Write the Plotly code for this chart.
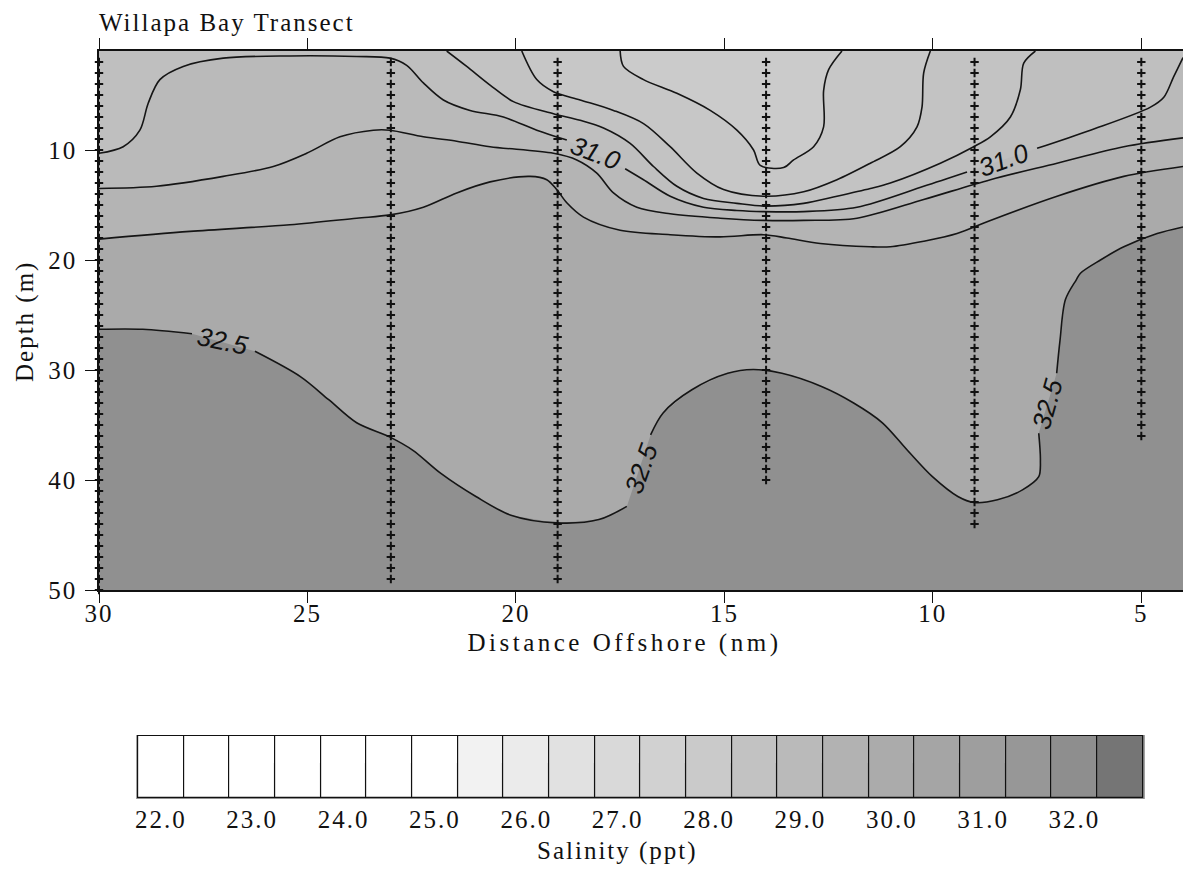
import plotly.graph_objects as go

W, H = 1183, 873

# ------------------------------------------------------------------ data
X_TICKS = [30, 25, 20, 15, 10, 5]
Y_TICKS = [10, 20, 30, 40, 50]

# CTD stations (distance offshore, nm) and first / last sampled depth (m, 1-m bins)
STATION_X = [30, 23, 19, 14, 9, 5]
STATION_TOP = [2, 2, 2, 2, 2, 2]
STATION_BOTTOM = [50, 49, 49, 40, 44, 36]

# Isohalines read from the section (distance nm, depth m); None = gap for a label
ISO_295_X = [17.50, 17.42, 16.94, 16.14, 15.34, 14.70, 14.30, 14.14, 13.58, 13.34, 12.86, 12.62, 12.62, 12.50, 12.18]
ISO_295_D = [1.0, 2.4, 3.6, 4.85, 6.4, 8.2, 10.0, 11.4, 11.6, 10.9, 9.7, 7.9, 4.6, 2.7, 1.0]

ISO_300_X = [19.86, 19.50, 19.10, 18.46, 17.66, 16.94, 16.30, 15.66, 15.02, 14.06, 13.10, 12.30, 11.50, 10.78, 10.38, 10.26, 10.22, 10.06]
ISO_300_D = [1.0, 3.6, 4.7, 5.45, 6.4, 7.6, 9.7, 12.1, 13.6, 14.2, 13.8, 12.7, 11.2, 9.7, 7.9, 6.1, 3.0, 1.0]

ISO_305_X = [21.66, 21.18, 20.62, 20.06, 19.10, 18.46, 17.90, 17.26, 16.70, 16.14, 15.50, 14.70, 14.06, 13.10, 12.30, 11.50, 11.02, 9.82, 9.02, 8.62, 8.14, 7.90, 7.82, 7.54]
ISO_305_D = [1.0, 2.4, 4.1, 5.6, 6.7, 7.3, 8.0, 9.4, 11.5, 13.3, 14.4, 14.85, 15.1, 14.85, 14.2, 13.5, 13.0, 11.2, 9.7, 8.8, 7.0, 4.5, 2.1, 1.0]

ISO_310_X = [30.0, 29.42, 29.02, 28.82, 28.54, 27.98, 27.02, 25.42, 23.82, 23.02, 22.62, 22.22, 21.74, 21.10, 20.30, 19.50, 18.78, None,
             17.38, 16.94, 16.30, 15.50, 14.70, 14.06, 13.10, 11.82, 10.22, 9.18, None,
             7.50, 6.22, 4.78, 4.46, 4.22, 4.0]
ISO_310_D = [10.3, 9.7, 8.2, 5.75, 3.6, 2.4, 1.65, 1.45, 1.5, 1.65, 2.3, 3.9, 5.45, 6.4, 7.0, 8.2, 9.1, None,
             11.7, 12.7, 14.2, 15.2, 15.5, 15.6, 15.6, 15.2, 13.3, 12.0, None,
             9.85, 8.2, 6.1, 5.2, 3.3, 1.6]

ISO_315_X = [30.0, 28.62, 27.02, 25.82, 25.02, 24.22, 23.42, 23.02, 22.22, 21.42, 20.62, 19.10, 18.54, 18.06, 17.66, 17.10, 16.30,
             15.10, 14.06, 13.10, 11.82, 10.22, 8.62, 7.02, 5.42, 4.0]
ISO_315_D = [13.5, 13.3, 12.4, 11.5, 10.3, 8.8, 8.2, 8.2, 8.8, 9.2, 9.7, 10.3, 10.9, 12.1, 13.9, 15.2, 15.8,
             16.2, 16.4, 16.4, 16.2, 14.5, 12.7, 11.2, 9.7, 8.9]

ISO_320_X = [30.0, 27.82, 25.42, 23.82, 23.02, 22.22, 21.42, 20.62, 19.66, 19.26, 19.02, 18.78, 18.38, 17.50, 16.30, 15.10, 14.06,
             13.50, 12.70, 11.50, 11.02, 10.22, 9.42, 8.62, 7.02, 5.42, 4.0]
ISO_320_D = [18.1, 17.4, 16.8, 16.2, 15.9, 15.2, 13.9, 12.9, 12.4, 12.7, 13.6, 14.8, 16.1, 17.3, 17.7, 17.9, 17.7,
             18.0, 18.5, 18.8, 18.8, 18.3, 17.6, 16.4, 14.2, 12.4, 11.5]

ISO_325_X = [30.0, 28.95, 27.77, None, 26.26, 25.17, 24.49, 23.82, 23.02, 22.47, 21.80, 20.96, 20.12, 19.02, 18.01, 17.34, None,
             16.77, 16.47, 15.78, 14.92, 14.31, 13.62, 12.67, 11.90, 11.21, 10.61, 10.01, 9.40, 9.01, 8.45, 7.85, 7.46, 7.42, 7.46, None,
             7.03, 6.95, 6.82, 6.56, 6.46, 5.98, 5.42, 4.62, 4.0]
ISO_325_D = [26.3, 26.3, 26.7, None, 28.3, 30.6, 32.7, 34.8, 36.1, 37.3, 39.4, 41.5, 43.2, 43.9, 43.6, 42.4, None,
             35.9, 33.9, 31.8, 30.3, 29.95, 30.3, 31.5, 33.0, 34.8, 37.3, 39.7, 41.5, 42.05, 41.8, 40.9, 39.7, 38.2, 35.75, None,
             30.3, 27.3, 23.6, 21.8, 21.2, 20.0, 18.8, 17.6, 17.0]

ISOHALINES = [
    (29.5, ISO_295_X, ISO_295_D),
    (30.0, ISO_300_X, ISO_300_D),
    (30.5, ISO_305_X, ISO_305_D),
    (31.0, ISO_310_X, ISO_310_D),
    (31.5, ISO_315_X, ISO_315_D),
    (32.0, ISO_320_X, ISO_320_D),
    (32.5, ISO_325_X, ISO_325_D),
]

# shading of the band just below (fresher than) each isohaline, and deepest band
BAND_BELOW_COLOR = {29.5: "#cbcbcb", 30.0: "#c7c7c7", 30.5: "#c3c3c3", 31.0: "#bfbfbf",
                    31.5: "#bababa", 32.0: "#b4b4b4", 32.5: "#aaaaaa"}
DEEP_COLOR = "#909090"

# contour labels: text, distance, depth, angle
LABEL_TEXT = ["31.0", "31.0", "32.5", "32.5", "32.5"]
LABEL_X = [18.10, 8.30, 27.03, 17.00, 7.25]
LABEL_D = [10.3, 10.9, 27.4, 39.0, 33.1]
LABEL_ANGLE = [21, -20, 12, -70, -74]

# salinity key (ppt)
SAL_LEVELS = [22.0, 22.5, 23.0, 23.5, 24.0, 24.5, 25.0, 25.5, 26.0, 26.5, 27.0,
              27.5, 28.0, 28.5, 29.0, 29.5, 30.0, 30.5, 31.0, 31.5, 32.0, 32.5]
SAL_COLORS = ["#ffffff", "#ffffff", "#ffffff", "#ffffff", "#ffffff", "#ffffff", "#ffffff",
              "#f2f2f2", "#ebebeb", "#e1e1e1", "#d9d9d9", "#d1d1d1", "#cacaca", "#c2c2c2",
              "#bababa", "#b2b2b2", "#ababab", "#a5a5a5", "#9e9e9e", "#979797", "#8e8e8e", "#757575"]
SAL_TICKS = [22.0, 23.0, 24.0, 25.0, 26.0, 27.0, 28.0, 29.0, 30.0, 31.0, 32.0]

# ------------------------------------------------------------------ layout constants
X_RANGE = [30, 4]
Y_RANGE = [50, 1]
SERIF = "Liberation Serif"
SANS = "Liberation Sans"
INK = "#111111"
FS = 25

def px_x(px):
    return px / W

def px_y(py):
    return 1 - py / H

fig = go.Figure()

# ------------------------------------------------------------------ shaded bands
def band_polygon(xs, ds):
    px = [x for x in xs if x is not None]
    pd_ = [d for d in ds if d is not None]
    top_out = Y_RANGE[1] - 2
    left_out = X_RANGE[0] + 1
    right_out = X_RANGE[1] - 1

    def ext(x, d):
        if abs(d - Y_RANGE[1]) < 0.05:
            return [(x, top_out)]
        if abs(x - X_RANGE[0]) < 0.05:
            return [(left_out, d), (left_out, top_out)]
        return [(right_out, d), (right_out, top_out)]

    start = ext(px[0], pd_[0])[::-1]
    end = ext(px[-1], pd_[-1])
    pts = start + list(zip(px, pd_)) + end
    return [p[0] for p in pts], [p[1] for p in pts]

for level, xs, ds in sorted(ISOHALINES, key=lambda t: -t[0]):
    bx, by = band_polygon(xs, ds)
    fig.add_trace(go.Scatter(x=bx, y=by, mode="lines", fill="toself",
                             fillcolor=BAND_BELOW_COLOR[level],
                             line=dict(width=0, color=BAND_BELOW_COLOR[level]),
                             hoverinfo="skip", showlegend=False,
                             xaxis="x", yaxis="y"))

# ------------------------------------------------------------------ isohaline lines
for level, xs, ds in ISOHALINES:
    fig.add_trace(go.Scatter(x=xs, y=ds, mode="lines", connectgaps=False,
                             line=dict(color="#151515", width=1.6, shape="spline", smoothing=0.9),
                             name=f"{level:.1f}", showlegend=False, hoverinfo="skip",
                             xaxis="x", yaxis="y"))

# ------------------------------------------------------------------ station sample points
for sx, top, bot in zip(STATION_X, STATION_TOP, STATION_BOTTOM):
    depths = list(range(top, bot + 1))
    fig.add_trace(go.Scatter(x=[sx] * len(depths), y=depths, mode="markers",
                             marker=dict(symbol="cross-thin", size=6, color=INK,
                                         line=dict(width=2, color=INK)),
                             showlegend=False, hoverinfo="skip", cliponaxis=False,
                             xaxis="x", yaxis="y"))

# ------------------------------------------------------------------ salinity key
fig.add_trace(go.Bar(x=SAL_LEVELS, y=[1] * len(SAL_LEVELS), width=0.5,
                     marker=dict(color=SAL_COLORS, line=dict(color="#111111", width=1.2)),
                     showlegend=False, hoverinfo="skip", xaxis="x2", yaxis="y2"))

annotations = []
for t, x, d, a in zip(LABEL_TEXT, LABEL_X, LABEL_D, LABEL_ANGLE):
    annotations.append(dict(text=t, x=x, y=d, xref="x", yref="y", showarrow=False,
                            textangle=a,
                            font=dict(family=SANS, size=26, color=INK, style="italic")))

annotations += [
    dict(text="Willapa Bay Transect", x=px_x(227), y=px_y(22), xref="paper", yref="paper",
         xanchor="center", yanchor="middle", showarrow=False,
         font=dict(family=SERIF, size=FS, color=INK)),
    dict(text="Distance Offshore (nm)", x=px_x(624), y=px_y(643), xref="paper", yref="paper",
         xanchor="center", yanchor="middle", showarrow=False,
         font=dict(family=SERIF, size=FS, color=INK)),
    dict(text="Depth (m)", x=px_x(25), y=px_y(322), xref="paper", yref="paper",
         xanchor="center", yanchor="middle", showarrow=False, textangle=-90,
         font=dict(family=SERIF, size=FS, color=INK)),
    dict(text="Salinity (ppt)", x=px_x(617), y=px_y(851), xref="paper", yref="paper",
         xanchor="center", yanchor="middle", showarrow=False,
         font=dict(family=SERIF, size=FS, color=INK)),
]

axis_common = dict(showgrid=False, zeroline=False, showline=True, linecolor=INK,
                   ticks="outside", tickcolor=INK, tickwidth=1.2, mirror="ticks",
                   tickfont=dict(family=SERIF, size=FS, color=INK), automargin=False)

KEY_LEFT_PX, KEY_RIGHT_PX = 138, 1143
KEY_RANGE = [21.75, 32.75]
KEY_PAD = 0.02  # data units of padding so the outer box borders are not clipped
key_px_per_unit = (KEY_RIGHT_PX - KEY_LEFT_PX) / (KEY_RANGE[1] - KEY_RANGE[0])

fig.update_layout(
    width=W, height=H,
    margin=dict(l=0, r=0, t=0, b=0, pad=0),
    paper_bgcolor="white",
    plot_bgcolor=DEEP_COLOR,
    template="none",
    showlegend=False,
    bargap=0,
    xaxis=dict(domain=[px_x(99), 1.0], range=X_RANGE, tickvals=X_TICKS, ticklen=11,
               ticklabelstandoff=-11,
               linewidth=1.8, anchor="y", **axis_common),
    yaxis=dict(domain=[px_y(590), px_y(51)], range=Y_RANGE, tickvals=Y_TICKS, ticklen=12,
               ticklabelstandoff=3,
               linewidth=1.5, anchor="x", **axis_common),
    xaxis2=dict(domain=[px_x(KEY_LEFT_PX - KEY_PAD * key_px_per_unit),
                        px_x(KEY_RIGHT_PX + KEY_PAD * key_px_per_unit)],
                range=[KEY_RANGE[0] - KEY_PAD, KEY_RANGE[1] + KEY_PAD], anchor="y2",
                tickvals=SAL_TICKS, ticktext=[f"{v:.1f}" for v in SAL_TICKS],
                showgrid=False, zeroline=False, showline=False,
                ticks="", ticklabelstandoff=3,
                tickfont=dict(family=SERIF, size=FS, color=INK), automargin=False),
    yaxis2=dict(domain=[px_y(799), px_y(735)], range=[-0.01, 1.01], anchor="x2",
                visible=False, automargin=False),
    annotations=annotations,
)

spacing_js = (
    "document.querySelectorAll('text').forEach(function(t){"
    "var f=(t.style&&t.style.fontFamily)||'';"
    "if(f.indexOf('Liberation Serif')>=0){"
    "var s=(t.textContent.indexOf('Distance')>=0)?'3.5px':'2px';"
    "t.style.letterSpacing=s;}});"
)

fig.write_html("out.html", post_script=spacing_js)
